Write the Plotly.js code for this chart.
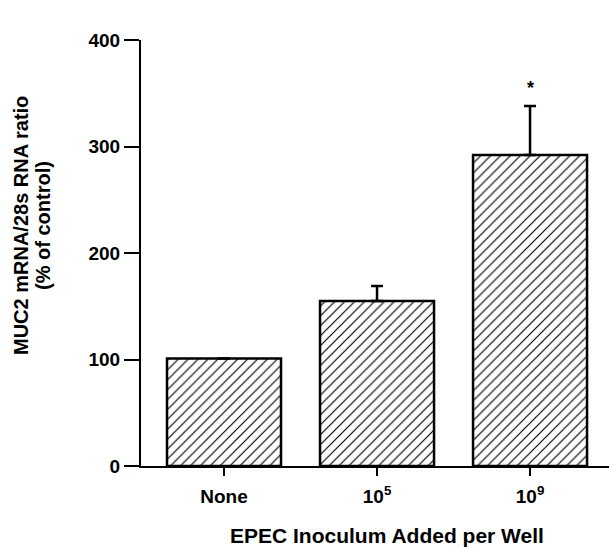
<!DOCTYPE html>
<html>
<head>
<meta charset="utf-8">
<script src="https://cdn.plot.ly/plotly-3.0.1.min.js"></script>
<style>html,body{margin:0;padding:0;background:#fff;}#chart{width:609px;height:547px;}</style>
</head>
<body>
<div id="chart"></div>
<script>
const categories = ['None', '10<sup>5</sup>', '10<sup>9</sup>'];
const values = [101, 155, 292];
const errorsUp = [null, 14, 46];
const yTickVals = [0, 100, 200, 300, 400];
const yTitleLine1 = 'MUC2 mRNA/28s RNA ratio';
const yTitleLine2 = '(% of control)';
const xTitle = 'EPEC Inoculum Added per Well';
const sigMark = '*';

const FONT = 'Liberation Sans, Arial, Helvetica, sans-serif';

const trace = {
  type: 'bar',
  x: categories,
  y: values,
  width: 0.745,
  marker: {
    color: '#ffffff',
    line: {color: '#000000', width: 2.5},
    pattern: {shape: '/', fgcolor: '#000000', bgcolor: '#ffffff', size: 7, solidity: 0.17}
  },
  error_y: {
    type: 'data',
    symmetric: false,
    array: errorsUp,
    arrayminus: errorsUp.map(function(){ return 0; }),
    color: '#000000',
    thickness: 2.5,
    width: 6
  },
  hoverinfo: 'skip'
};

const sigIndex = 2;

const layout = {
  width: 609,
  height: 547,
  margin: {l: 141, r: 0, t: 40, b: 81},
  paper_bgcolor: '#ffffff',
  plot_bgcolor: '#ffffff',
  showlegend: false,
  font: {family: FONT, color: '#000000'},
  xaxis: {
    type: 'category',
    categoryorder: 'array',
    categoryarray: categories,
    range: [-0.5425, 2.516],
    showgrid: false,
    zeroline: false,
    showline: true,
    linecolor: '#000000',
    linewidth: 2,
    ticks: 'outside',
    ticklen: 8,
    tickwidth: 2,
    tickcolor: '#000000',
    ticklabelstandoff: 4,
    tickfont: {family: FONT, size: 19, weight: 'bold', color: '#000000'}
  },
  yaxis: {
    range: [0, 400],
    tickvals: yTickVals,
    showgrid: false,
    zeroline: false,
    showline: true,
    linecolor: '#000000',
    linewidth: 2,
    ticks: 'outside',
    ticklen: 15,
    tickwidth: 2,
    tickcolor: '#000000',
    tickfont: {family: FONT, size: 19, weight: 'bold', color: '#000000'}
  },
  annotations: [
    {
      xref: 'paper', yref: 'paper', x: -0.2564, y: 0.5634,
      xanchor: 'center', yanchor: 'middle', textangle: -90,
      text: yTitleLine1, showarrow: false,
      font: {family: FONT, size: 20, weight: 'bold', color: '#000000'}
    },
    {
      xref: 'paper', yref: 'paper', x: -0.2094, y: 0.5634,
      xanchor: 'center', yanchor: 'middle', textangle: -90,
      text: yTitleLine2, showarrow: false,
      font: {family: FONT, size: 20, weight: 'bold', color: '#000000'}
    },
    {
      xref: 'paper', yref: 'paper', x: 0.5256, y: -0.162,
      xanchor: 'center', yanchor: 'middle',
      text: xTitle, showarrow: false,
      font: {family: FONT, size: 21, weight: 'bold', color: '#000000'}
    },
    {
      xref: 'x', yref: 'y', x: categories[sigIndex], y: values[sigIndex] + errorsUp[sigIndex],
      xanchor: 'center', yanchor: 'bottom', yshift: 6,
      text: sigMark, showarrow: false,
      font: {family: FONT, size: 18, weight: 'bold', color: '#000000'}
    }
  ]
};

Plotly.newPlot('chart', [trace], layout, {displayModeBar: false, staticPlot: true});
</script>
</body>
</html>
